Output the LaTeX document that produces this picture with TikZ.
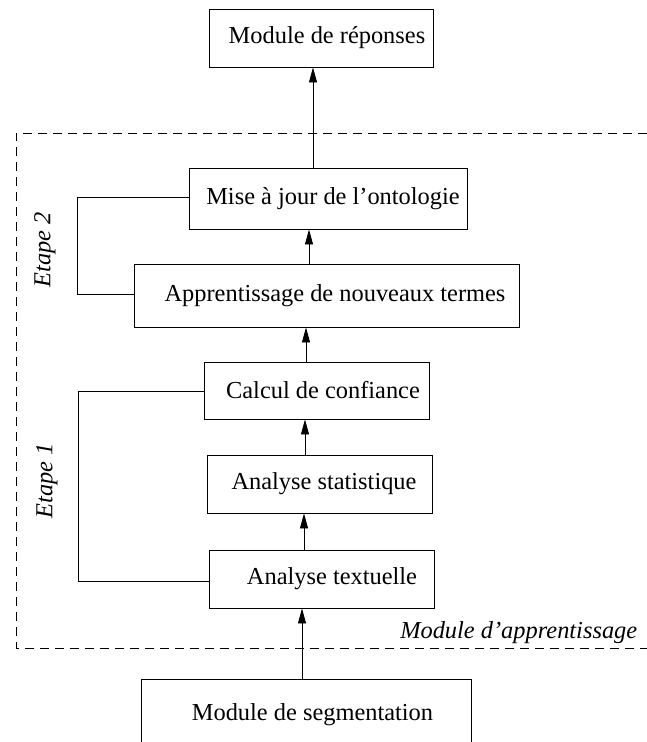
\documentclass[tikz,border=0pt]{standalone}
\usepackage{fontspec}
\setmainfont{Liberation Serif}
\usetikzlibrary{arrows.meta}
\begin{document}
\begin{tikzpicture}[x=1pt,y=-1pt,
  line width=0.9pt,
  box/.style={draw, rectangle, inner sep=0pt, font=\fontsize{24.4}{28}\selectfont},
  arr/.style={-{Triangle[length=15pt,width=8pt]}},
  lab/.style={font=\fontsize{24.4}{28}\selectfont\itshape},
  dashline/.style={dash pattern=on 9pt off 6pt}]
\useasboundingbox (0,0) rectangle (647,742);
\node[box, minimum width=224pt, minimum height=58pt] (rep) at (321,38) {\hspace{12pt}Module de réponses};
\node[box, minimum width=278pt, minimum height=61pt] (mise) at (328,198.5) {\hspace{10pt}Mise à jour de l’ontologie};
\node[box, minimum width=385pt, minimum height=63pt] (appr) at (326.5,295.5) {\hspace{17pt}Apprentissage de nouveaux termes};
\node[box, minimum width=225pt, minimum height=57pt] (calc) at (316.5,390.5) {\hspace{13pt}Calcul de confiance};
\node[box, minimum width=225pt, minimum height=58pt] (stat) at (319.5,484) {\hspace{9pt}Analyse statistique};
\node[box, minimum width=225pt, minimum height=58pt] (text) at (321.5,579) {\hspace{21pt}Analyse textuelle};
\node[box, minimum width=330pt, minimum height=72pt] (seg) at (306,715) {\hspace{13pt}Module de segmentation};
% dashed module frame
\coordinate (dtr) at (647,133);
\coordinate (dtl) at (16,133);
\coordinate (dbl) at (16,648);
\coordinate (dbr) at (647,648);
\draw[dashline] (dtr) -- (dtl) -- (dbl) -- (dbr);
\node[lab, anchor=east] (modapp) at (641,633) {Module d’apprentissage};
% arrows
\draw[arr] (mise.north -| 313,0) -- (rep.south -| 313,0);
\draw[arr] (appr.north -| 309,0) -- (mise.south -| 309,0);
\draw[arr] (calc.north -| 306,0) -- (appr.south -| 306,0);
\draw[arr] (stat.north -| 305,0) -- (calc.south -| 305,0);
\draw[arr] (text.north -| 304,0) -- (stat.south -| 304,0);
\draw[arr] (seg.north -| 302,0) -- (text.south -| 302,0);
% brackets
\coordinate (b2t) at (77,197);
\coordinate (b2b) at (77,294);
\draw (mise.west |- b2t) -- (b2t) -- (b2b) -- (appr.west |- b2b);
\coordinate (b1t) at (78,391);
\coordinate (b1b) at (78,581);
\draw (calc.west |- b1t) -- (b1t) -- (b1b) -- (text.west |- b1b);
\node[lab, rotate=90] (e2) at (45,250) {Etape 2};
\node[lab, rotate=90] (e1) at (47,481) {Etape 1};
\end{tikzpicture}
\end{document}
